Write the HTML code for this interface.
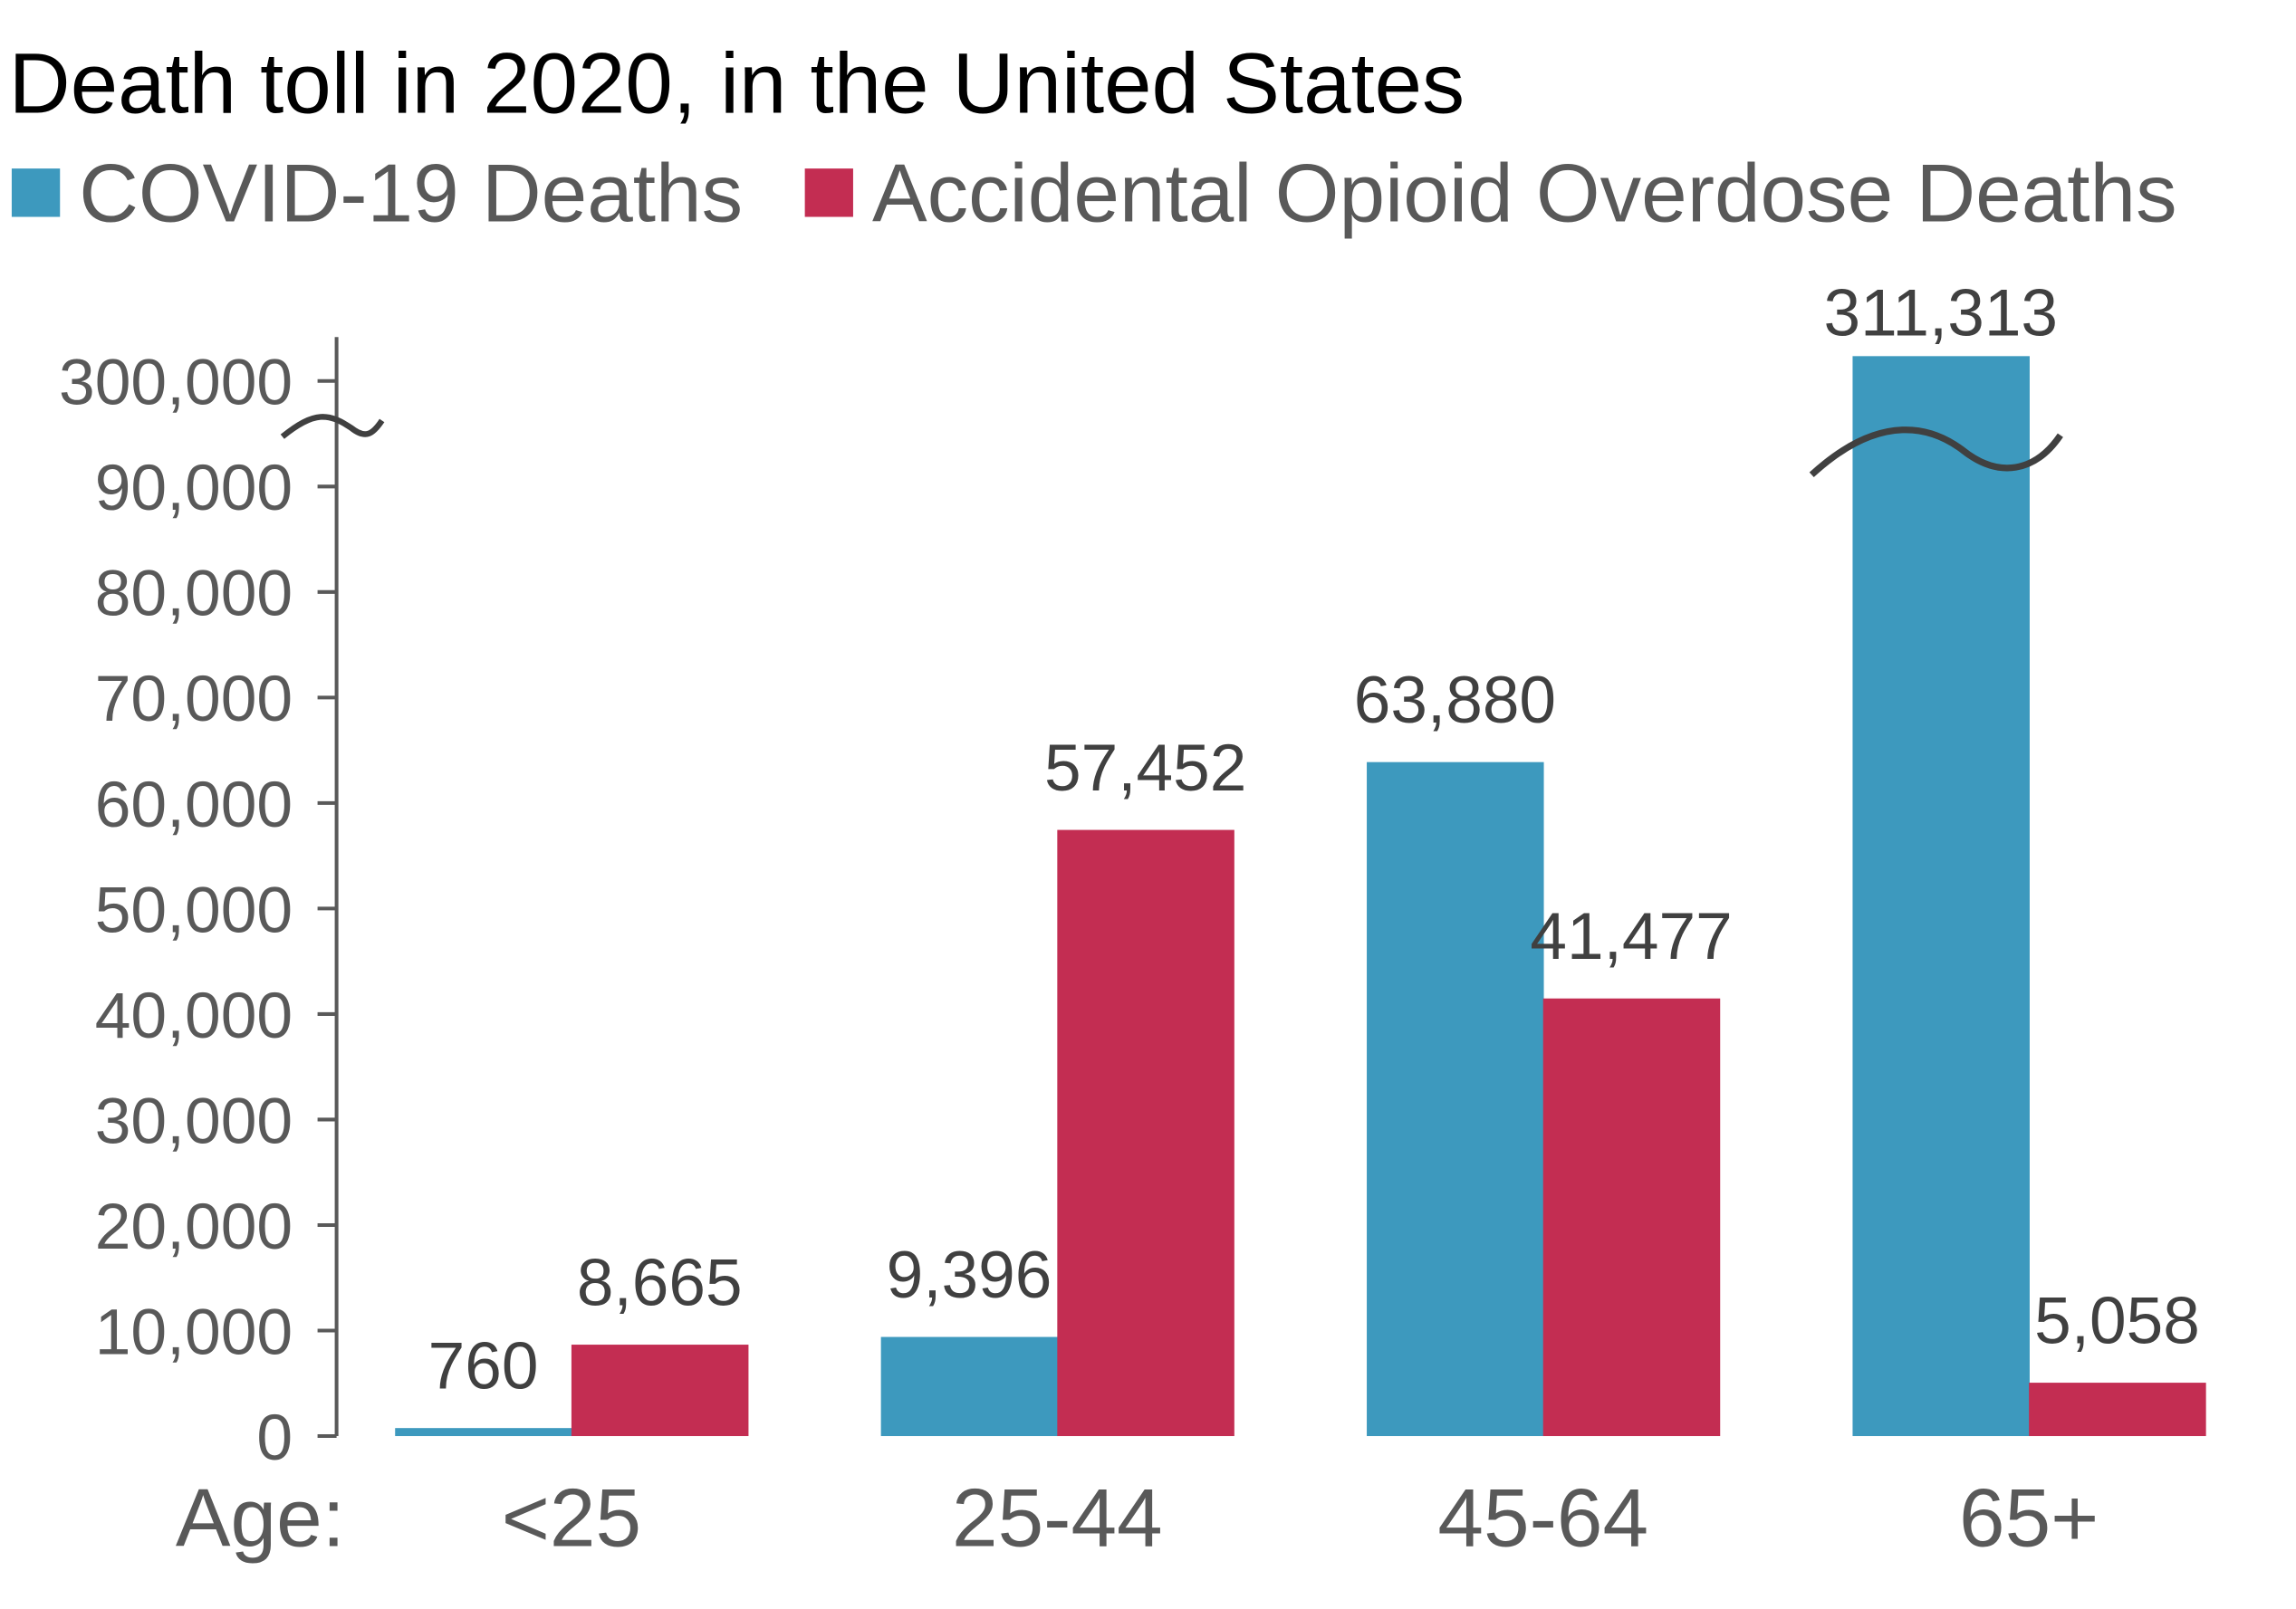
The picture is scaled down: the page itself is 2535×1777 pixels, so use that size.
<!DOCTYPE html>
<html><head><meta charset="utf-8"><style>
html,body{margin:0;padding:0;background:#fff}
svg{display:block;font-family:"Liberation Sans",Arial,sans-serif}
</style></head><body>
<svg id="chart" width="2535" height="1777" viewBox="0 0 1569 1098" preserveAspectRatio="none" xmlns="http://www.w3.org/2000/svg">
<text x="6" y="77" font-size="58.3" fill="#000">Death toll in 2020, in the United States</text>
<g>
<rect x="8" y="115" width="33" height="33" fill="#3d99be"/>
<text x="54" y="151" font-size="56.3" fill="#595959">COVID-19 Deaths</text>
<rect x="550" y="115" width="33" height="33" fill="#c32d52"/>
<text x="596" y="151" font-size="56.3" fill="#595959">Accidental Opioid Overdose Deaths</text>
</g>
<g id="plot"></g>
</svg>
<script>
const categories = ["<25", "25-44", "45-64", "65+"];
const covid = [760, 9396, 63880, 311313];
const opioid = [8665, 57452, 41477, 5058];
const tickValues = [0, 10000, 20000, 30000, 40000, 50000, 60000, 70000, 80000, 90000, 300000];
const tickLabels = ["0", "10,000", "20,000", "30,000", "40,000", "50,000", "60,000", "70,000", "80,000", "90,000", "300,000"];

const NS = "http://www.w3.org/2000/svg";
const plot = document.getElementById('plot');
const y0 = 980, pxPer = 72 / 10000;
function y(v) {
  if (v <= 95000) return y0 - v * pxPer;
  return (y0 - 100000 * pxPer) - (v - 300000) * 0.0015;
}
const groupStart = 270, groupPitch = 332, barW = 120.5;
function xBar(i, s) { return groupStart + i * groupPitch + s * barW; }
function mk(tag, attrs) { const e = document.createElementNS(NS, tag); for (const k in attrs) e.setAttribute(k, attrs[k]); plot.appendChild(e); return e; }
function fmt(v) { return v.toLocaleString('en-US'); }

let ax = mk('line', {x1: 230, y1: 230, x2: 230, y2: 980, stroke: '#595959', 'stroke-width': 2.5});


tickValues.forEach((v, i) => {
  const yy = v === 300000 ? y0 - 100000 * pxPer : y(v);
  let t = mk('line', {x1: 217, y1: yy, x2: 230, y2: yy, stroke: '#595959', 'stroke-width': 2.5});
  
  
  let l = mk('text', {x: 200, y: yy + 16, 'font-size': 44.2, fill: '#595959', 'text-anchor': 'end'});
  
  
  l.textContent = tickLabels[i];
});

const series = [covid, opioid], colors = ['#3d99be', '#c32d52'], names = ['covid', 'opioid'];
categories.forEach((c, i) => {
  series.forEach((arr, s) => {
    const v = arr[i], top = y(v);
    let r = mk('rect', {x: xBar(i, s), y: top, width: barW + 0.5, height: y0 - top, fill: colors[s]});
    
    
    const gap = v > 95000 ? 14 : 27;
    let t = mk('text', {x: xBar(i, s) + barW / 2, y: top - gap, 'font-size': 45.2, fill: '#404040', 'text-anchor': 'middle'});
    
    
    t.textContent = fmt(v);
  });
  let cl = mk('text', {x: xBar(i, 1), y: 1055, 'font-size': 56.3, fill: '#595959', 'text-anchor': 'middle'});
  
  
  cl.textContent = c;
});
let age = mk('text', {x: 120, y: 1055, 'font-size': 56.3, fill: '#595959'});


age.textContent = 'Age:';

let b1 = mk('path', {d: 'M193,298 C215,280 225,282 240,292 C250,300 255,296 261,287', fill: 'none', stroke: '#404040', 'stroke-width': 4});


let bx = xBar(3, 0);
let b2 = mk('path', {d: `M${bx-28},324 C${bx+20},280 ${bx+55},292 ${bx+75},307 C${bx+100},327 ${bx+125},322 ${bx+142},297`, fill: 'none', stroke: '#404040', 'stroke-width': 4.5});


</script>
</body></html>
